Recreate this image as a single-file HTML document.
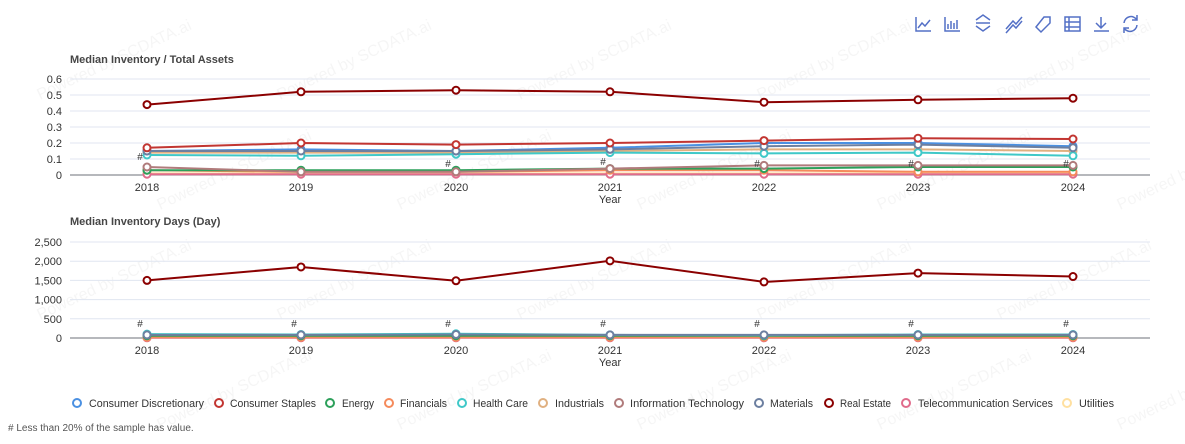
<!DOCTYPE html><html><head><style>
body{margin:0;background:#fff;font-family:"Liberation Sans",sans-serif}
svg text{font-family:"Liberation Sans",sans-serif}
</style></head><body>
<svg id="s" width="1185" height="439" xmlns="http://www.w3.org/2000/svg"></svg>
<script>
const s=document.getElementById('s');let h='';
const X=[147,301,456,610,764,918,1073],Y=['2018','2019','2020','2021','2022','2023','2024'];
const ic='#5470c6';
h+=`<g stroke="${ic}" stroke-width="1.5" fill="none">
<path d="M916 17v14h15M918 28l4-5 3 3 5-6"/>
<path d="M945 17v14h15M948 29v-5M951 29v-8M954 29v-6M957 29v-9"/>
<path d="M976 20l7-5 7 5M976 26l7 5 7-5M976 23h14"/>
<path d="M1006 29l7-8 3 3 6-7M1006 33l7-8 3 3 6-7"/>
<path d="M1036 27l8-10h6v6l-9 9z"/>
<rect x="1065" y="17" width="15" height="14"/><path d="M1065 22h15M1065 27h15M1069 17v14"/>
<path d="M1094 31h15M1101 17v11M1096 23l5 5 5-5"/>
<path d="M1124 23a7 7 0 0 1 13-3M1137 25a7 7 0 0 1-13 3M1137 15v5h-5M1124 33v-5h5"/></g>`;
for(let r=0;r<4;r++)for(let c=0;c<5;c++)h+=`<text x="${40+c*240+(r%2)*120}" y="${100+r*110}" transform="rotate(-25 ${40+c*240+(r%2)*120} ${100+r*110})" fill="#000" fill-opacity="0.04" font-size="16">Powered by SCDATA.ai</text>`;
function chart(top0,scale,ticks,title,titleY,series){
 h+=`<text x="70" y="${titleY}" font-size="11" font-weight="bold" fill="#464646">${title}</text>`;
 ticks.forEach(([v,l])=>{const y=top0-v*scale;h+=`<line x1="70" x2="1150" y1="${y}" y2="${y}" stroke="${v?'#e0e6f1':'#6e7079'}"/><text x="62" y="${y+4}" text-anchor="end" font-size="11" fill="#333">${l}</text>`});
 X.forEach((x,i)=>h+=`<text x="${x}" y="${top0+16}" text-anchor="middle" font-size="11" fill="#333">${Y[i]}</text>`);
 h+=`<text x="610" y="${top0+28}" text-anchor="middle" font-size="11" fill="#333">Year</text>`;
 series.forEach(([c,d])=>{const p=d.map((v,i)=>[X[i],top0-v*scale]);
  h+=`<polyline points="${p.join(' ')}" fill="none" stroke="${c}" stroke-width="2"/>`;
  p.forEach(q=>h+=`<circle cx="${q[0]}" cy="${q[1]}" r="3.5" fill="#fff" stroke="${c}" stroke-width="2"/>`)});
}
const C=['#4a90e2','#c23531','#2ca05a','#f58a5b','#3fc8c8','#e0b080','#b07b7b','#6c7fa0','#8b0000','#e06b8b','#ffe0a0'];
chart(175,160,[[0,'0'],[.1,'0.1'],[.2,'0.2'],[.3,'0.3'],[.4,'0.4'],[.5,'0.5'],[.6,'0.6']],'Median Inventory / Total Assets',63,[
[C[10],[.01,.01,.01,.01,.01,.01,.01]],[C[9],[.005,.005,.005,.005,.005,.005,.005]],[C[3],[.03,.02,.02,.03,.03,.02,.02]],
[C[2],[.03,.03,.03,.04,.04,.05,.05]],[C[6],[.05,.02,.02,.04,.06,.06,.06]],
[C[5],[.14,.14,.14,.15,.16,.16,.15]],[C[4],[.125,.12,.13,.14,.135,.14,.12]],[C[0],[.15,.16,.15,.17,.2,.2,.18]],
[C[7],[.15,.15,.15,.16,.18,.19,.17]],[C[1],[.17,.2,.19,.2,.215,.23,.225]],[C[8],[.44,.52,.53,.52,.455,.47,.48]]]);
chart(338,0.0384,[[0,'0'],[500,'500'],[1000,'1,000'],[1500,'1,500'],[2000,'2,000'],[2500,'2,500']],'Median Inventory Days (Day)',225,[
[C[10],[10,10,10,10,10,10,10]],[C[9],[5,5,5,5,5,5,5]],[C[3],[20,20,20,20,20,20,20]],[C[2],[60,60,60,60,60,60,60]],
[C[4],[100,90,110,80,70,90,90]],[C[7],[80,80,90,80,80,80,80]],[C[8],[1500,1850,1490,2010,1460,1690,1600]]]);
[[140,160],[448,167],[603,165],[757,167],[911,167],[1066,167],[140,327],[294,327],[448,327],[603,327],[757,327],[911,327],[1066,327]].forEach(([x,y])=>h+=`<text x="${x}" y="${y}" font-size="10" fill="#333" text-anchor="middle">#</text>`);
const L=[['Consumer Discretionary',77,89,204],['Consumer Staples',219,230,316],['Energy',330,342,374],['Financials',389,400,447],['Health Care',462,473,528],['Industrials',543,555,604],['Information Technology',619,630,744],['Materials',759,770,813],['Real Estate',829,840,891],['Telecommunication Services',906,918,1053],['Utilities',1067,1079,1114]];
L.forEach(([t,c,a,b],i)=>h+=`<circle cx="${c}" cy="403" r="4" fill="#fff" stroke="${C[i]}" stroke-width="2"/><text x="${a}" y="407" font-size="11" fill="#333" textLength="${b-a}" lengthAdjust="spacingAndGlyphs">${t}</text>`);
h+=`<text x="8" y="431" font-size="10" fill="#555">`+'# Less than 20% of the sample has value.'+`</text>`;
s.innerHTML=h;
</script></body></html>
